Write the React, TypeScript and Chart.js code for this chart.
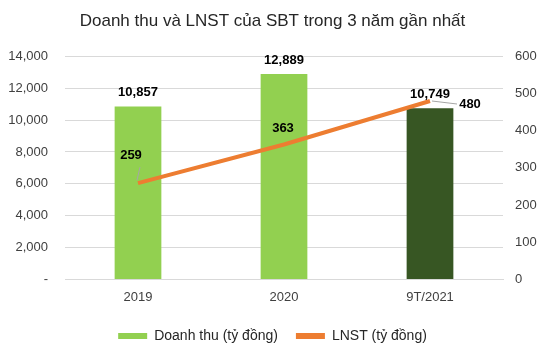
import React, { useEffect, useRef } from "react";
import { Chart, registerables } from "chart.js";

Chart.register(...registerables);

const categories = ["2019", "2020", "9T/2021"];
const revenue = [10857, 12889, 10749];
const profit = [259, 363, 480];
const leftTicks = [0, 2000, 4000, 6000, 8000, 10000, 12000, 14000];
const rightTicks = [0, 100, 200, 300, 400, 500, 600];
const barColors = ["#92D050", "#92D050", "#375623"];
const lineColor = "#ED7D31";
const title = "Doanh thu và LNST của SBT trong 3 năm gần nhất";
const seriesNames = ["Doanh thu (tỷ đồng)", "LNST (tỷ đồng)"];

const FONT = "'Liberation Sans', Arial, sans-serif";
const fmt = (v: number) => v.toLocaleString("en-US");

const labelPlugin = {
  id: "labels",
  afterDatasetsDraw(chart: any) {
    const ctx = chart.ctx;
    ctx.save();
    ctx.font = "bold 13px " + FONT;
    ctx.fillStyle = "#000";
    ctx.textAlign = "center";
    ctx.textBaseline = "middle";
    const barMeta = chart.getDatasetMeta(0);
    barMeta.data.forEach((el: any, i: number) => {
      ctx.fillText(fmt(revenue[i]), el.x, el.y - 14);
    });
    const lineMeta = chart.getDatasetMeta(1);
    const offs = [
      [-7, -28],
      [-1, -16],
      [40, 3],
    ];
    lineMeta.data.forEach((el: any, i: number) => {
      const x = el.x + offs[i][0];
      const y = el.y + offs[i][1];
      ctx.strokeStyle = "#A6A6A6";
      ctx.lineWidth = 1;
      if (i === 2) {
        ctx.beginPath();
        ctx.moveTo(el.x + 2, el.y);
        ctx.lineTo(x - 13, y);
        ctx.stroke();
      }
      if (i === 0) {
        ctx.beginPath();
        ctx.moveTo(el.x - 1, el.y - 3);
        ctx.lineTo(el.x + 2, el.y - 16);
        ctx.stroke();
      }
      ctx.fillText(fmt(profit[i]), x, y);
    });
    ctx.restore();
  },
};

export default function App() {
  const ref = useRef<HTMLCanvasElement>(null);
  useEffect(() => {
    if (!ref.current) return;
    const chart = new Chart(ref.current, {
      type: "bar",
      data: {
        labels: categories,
        datasets: [
          {
            type: "bar",
            label: seriesNames[0],
            data: revenue,
            backgroundColor: barColors,
            yAxisID: "y",
            categoryPercentage: 1,
            barPercentage: 0.32,
            order: 2,
          },
          {
            type: "line",
            label: seriesNames[1],
            data: profit,
            borderColor: lineColor,
            backgroundColor: lineColor,
            borderWidth: 4,
            pointRadius: 0,
            yAxisID: "y1",
            order: 1,
          } as any,
        ],
      },
      options: {
        animation: false,
        responsive: false,
        layout: { padding: { left: 0, right: 0, top: 0, bottom: 3 } },
        plugins: {
          title: {
            display: true,
            text: title,
            color: "#262626",
            font: { size: 17, family: FONT, weight: "normal" as any },
            padding: { top: 11, bottom: 25 },
          },
          legend: {
            position: "bottom",
            labels: {
              color: "#262626",
              font: { size: 14, family: FONT },
              boxWidth: 29,
              boxHeight: 6,
              padding: 18,
              generateLabels: () =>
                seriesNames.map((n, i) => ({
                  text: n,
                  fillStyle: i === 0 ? barColors[0] : lineColor,
                  strokeStyle: i === 0 ? barColors[0] : lineColor,
                  lineWidth: 0,
                  datasetIndex: i,
                  hidden: false,
                  fontColor: "#262626",
                })),
            },
          },
          tooltip: { enabled: false },
        },
        scales: {
          x: {
            grid: { display: false },
            border: { display: true, color: "#D9D9D9" },
            afterFit: (s: any) => {
              s.height += 4;
            },
            ticks: {
              color: "#404040",
              font: { size: 13, family: FONT },
              padding: 2,
            },
          },
          y: {
            position: "left",
            min: 0,
            max: 14000,
            afterFit: (s: any) => {
              s.width = 65;
            },
            afterBuildTicks: (s: any) => {
              s.ticks = leftTicks.map((v) => ({ value: v }));
            },
            grid: { color: "#D9D9D9", drawTicks: false },
            border: { display: false },
            ticks: {
              color: "#404040",
              font: { size: 13, family: FONT },
              padding: 17,
              callback: (v: any) => (v === 0 ? "-" : fmt(Number(v))),
            },
          },
          y1: {
            position: "right",
            min: 0,
            max: 600,
            afterFit: (s: any) => {
              s.width = 42;
            },
            afterBuildTicks: (s: any) => {
              s.ticks = rightTicks.map((v) => ({ value: v }));
            },
            grid: { display: false, drawTicks: false },
            border: { display: false },
            ticks: {
              color: "#404040",
              font: { size: 13, family: FONT },
              padding: 12,
            },
          },
        },
      },
      plugins: [labelPlugin],
    });
    return () => chart.destroy();
  }, []);
  return (
    <div style={{ position: "fixed", left: 0, top: 0, width: 545, height: 356, background: "#fff" }}>
      <canvas ref={ref} width={545} height={356} style={{ width: 545, height: 356 }} />
    </div>
  );
}
